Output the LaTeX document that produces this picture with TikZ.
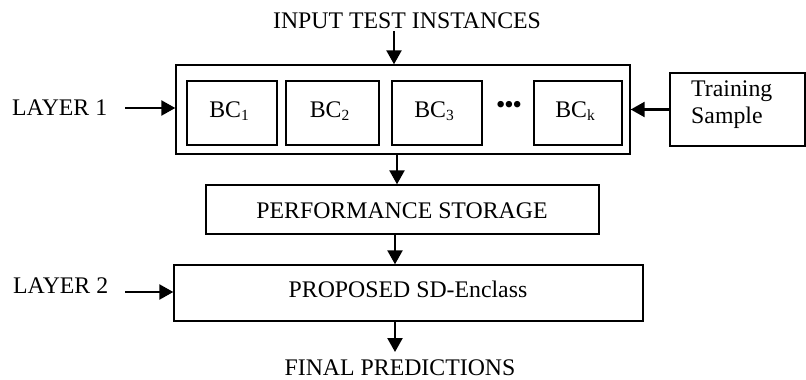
\documentclass[tikz,border=0pt]{standalone}
\usepackage{fontspec}
\setmainfont{Liberation Serif}
\usetikzlibrary{arrows.meta}
% subscript index for the base classifiers
\newcommand{\bcidx}[1]{\raisebox{-0.3ex}{\fontsize{15.5}{15.5}\selectfont #1}}

\begin{document}
\begin{tikzpicture}[x=1pt,y=-1pt,
  every node/.style={font=\fontsize{23.8}{27}\selectfont, inner sep=0pt},
  box/.style={draw, line width=1.4pt},
  flow/.style={line width=2.4pt, -{Triangle[length=14pt,width=15pt]}},
  lbl/.style={anchor=base}]
\useasboundingbox (0,0) rectangle (806,380);

% layer 1: ensemble of base classifiers
\node[box, minimum width=454pt, minimum height=89pt] (outer) at (403,109.5) {};
\node[box, minimum width=90pt, minimum height=64pt] (bc1) at (232,113) {};
\node[box, minimum width=93pt, minimum height=64pt] (bc2) at (332.5,113) {};
\node[box, minimum width=90pt, minimum height=64pt] (bc3) at (437,113) {};
\node[box, minimum width=88pt, minimum height=64pt] (bck) at (578,113) {};
\node[lbl] (t1) at (229,117) {BC\bcidx{1}};
\node[lbl] (t2) at (329.5,117) {BC\bcidx{2}};
\node[lbl] (t3) at (434,117) {BC\bcidx{3}};
\node[lbl] (tk) at (575,117) {BC\bcidx{k}};
\node (dots) at (509,107) {\textbf{•••}};

% training data source
\node[box, minimum width=135pt, minimum height=73pt] (train) at (737.5,109.5) {};
\node[anchor=base west] (trainA) at (691,96) {Training};
\node[anchor=base west] (trainB) at (691,123) {Sample};

% layer 2 blocks
\node[box, minimum width=393pt, minimum height=49pt] (perf) at (402.5,209.5) {};
\node[lbl] (perfT) at (402,218) {PERFORMANCE STORAGE};
\node[box, minimum width=469pt, minimum height=56pt] (prop) at (408.5,293) {};
\node[lbl] (propT) at (408,297) {PROPOSED SD-Enclass};

% outer labels
\node[lbl] (inp) at (407,28) {INPUT TEST INSTANCES};
\node[anchor=base west] (lay1) at (12,115) {LAYER 1};
\node[anchor=base west] (lay2) at (13,293) {LAYER 2};
\node[lbl] (fin) at (400,375) {FINAL PREDICTIONS};

% connectors
\coordinate (inStart) at (394,31);
\coordinate (l1Start) at (125,108);
\coordinate (l2Start) at (125,292);
\coordinate (colA) at (397,0);
\coordinate (colB) at (395,0);
\coordinate (outEnd) at (395,352);

\draw[flow] (inStart) -- (inStart |- outer.north);
\draw[flow] (l1Start) -- (l1Start -| outer.west);
\draw[flow] (train.west) -- (train.west -| outer.east);
\draw[flow] (colA |- outer.south) -- (colA |- perf.north);
\draw[flow] (colB |- perf.south) -- (colB |- prop.north);
\draw[flow] (l2Start) -- (l2Start -| prop.west);
\draw[flow] (colB |- prop.south) -- (outEnd);
\end{tikzpicture}
\end{document}
